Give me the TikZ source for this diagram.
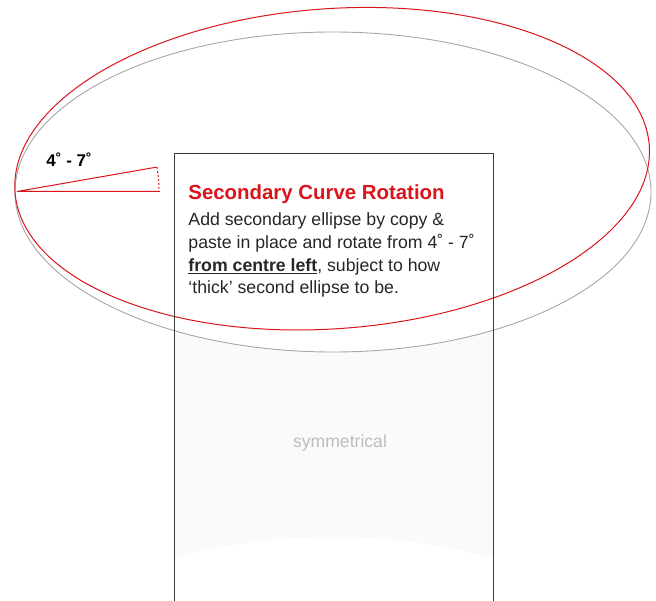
\documentclass[tikz,border=0pt]{standalone}
\usepackage{fontspec}
\setmainfont{Liberation Sans}
\usetikzlibrary{positioning}
\definecolor{cred}{HTML}{D9141B}
\definecolor{cgrey}{HTML}{A6A6A6}
\definecolor{cdark}{HTML}{3A3A3A}
\definecolor{ctext}{HTML}{262626}
\definecolor{cpale}{HTML}{FAFAFA}
\definecolor{cfaint}{HTML}{BDBDBD}
\newcommand{\thickul}[1]{\setbox0\hbox{#1}\rlap{\rule[-3.2pt]{\wd0}{1.6pt}}\box0}
\tikzset{
  every picture/.style={line width=0.9pt},
  rim/.style={draw=cgrey, line width=0.9pt},
  rimtwo/.style={draw=cred, line width=1pt},
  panel/.style={draw=cdark, line width=0.9pt},
  title/.style={font=\fontsize{20.4}{24}\selectfont\bfseries, text=cred, anchor=base west, inner sep=0pt},
  note/.style={font=\fontsize{17.7}{22.7}\selectfont, text=ctext, align=left, anchor=base west, inner sep=0pt},
  faint/.style={font=\fontsize{17.6}{21}\selectfont, text=cfaint, anchor=base, inner sep=0pt},
  angle/.style={font=\fontsize{17}{20}\selectfont\bfseries, text=black, anchor=base west, inner sep=0pt},
}
\begin{document}
\begin{tikzpicture}[x=1pt, y=1pt]
  \useasboundingbox (0,0) rectangle (656,600);

  % pale body of the can
  \begin{scope}
    \clip (174,0) rectangle (493,447);
    \fill[cpale, even odd rule] (174,42) -- (174,447) -- (493,447) -- (493,42)
      .. controls (386,70) and (280,70) .. (174,42) -- cycle
      (333,408) ellipse [x radius=318, y radius=160];
  \end{scope}

  % first ellipse and its rotated copy
  \draw[rim] (333,408) ellipse [x radius=318, y radius=160];
  \draw[rimtwo, rotate around={4.2:(15,408)}] (333,408) ellipse [x radius=318, y radius=160];

  % panel
  \coordinate (pbl) at (174,-2);
  \coordinate (ptl) at (174,447);
  \coordinate (ptr) at (493,447);
  \coordinate (pbr) at (493,-2);
  \draw[panel] (pbl) -- (ptl) -- (ptr) -- (pbr);

  % rotation wedge
  \coordinate (pivot) at (17,408.5);
  \path (pivot) ++(0:143) coordinate (hend);
  \path (pivot) ++(9.9:142) coordinate (tend);
  \draw[rimtwo] (hend) -- (pivot) -- (tend);
  \draw[rimtwo, dash pattern=on 2pt off 2pt] (tend) arc[start angle=9.9, end angle=0, radius=142];
  \node[angle] (deg) at (46,433) {4˚ - 7˚};

  % texts
  \node[title] (head) at (188,400.7) {Secondary Curve Rotation};
  \node[note] (body) at (188,306) {Add secondary ellipse by copy \&\\paste in place and rotate from 4˚ - 7˚\\\thickul{\textbf{from centre left}}, subject to how\\‘thick’ second ellipse to be.};
  \node[faint] (sym) at (340,152) {symmetrical};
\end{tikzpicture}
\end{document}
